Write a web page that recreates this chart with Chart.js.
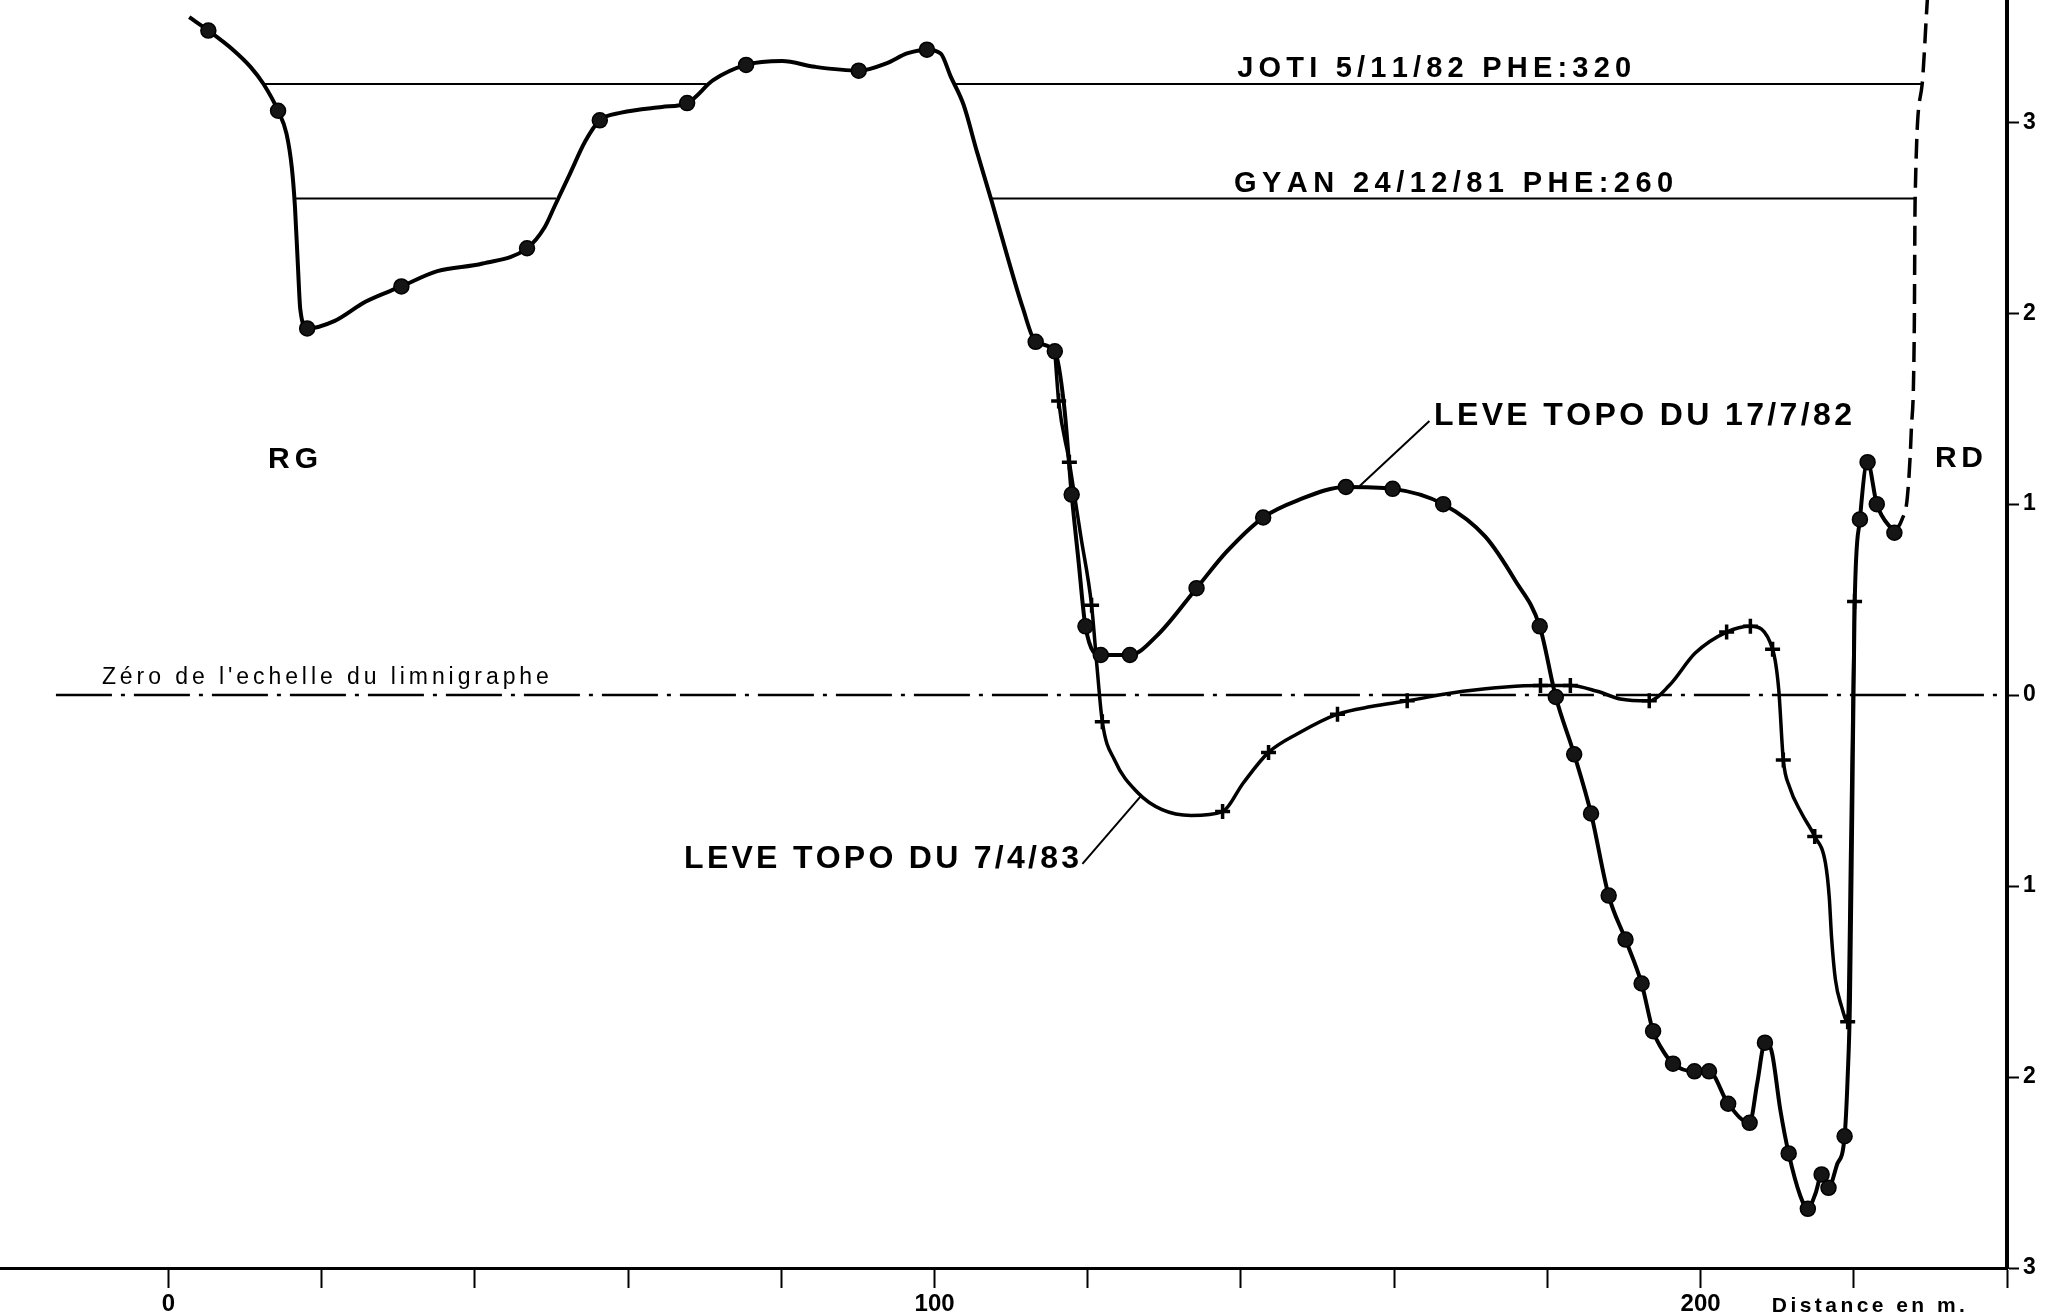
<!DOCTYPE html>
<html>
<head>
<meta charset="utf-8">
<title>Profil en travers</title>
<script src="https://cdn.jsdelivr.net/npm/chart.js@4/dist/chart.umd.min.js"></script>
<style>
  html, body { margin: 0; padding: 0; background: #ffffff; }
  #wrap { position: relative; width: 2050px; height: 1315px; }
</style>
</head>
<body>
<div id="wrap"><canvas id="section"></canvas></div>
<script>
// Cross-section survey: distance across the river (m) and elevation
// relative to the gauge zero (m). Flag 1 = surveyed point (marker drawn).

// Survey of 17/7/82 (round markers)
const leve82Dist = [2.7, 5.2, 8.4, 10.7, 12.4, 14.3, 15.4, 16.1, 16.5, 16.9, 17.2, 18.1,
  21.7, 25.7, 30.4, 35.1, 41.0, 46.8, 49.1, 50.4, 52.4, 54.4, 56.3, 59.1, 64.4, 67.7,
  71.1, 75.4, 80.1, 84.4, 90.1, 93.8, 96.4, 99.0, 100.8, 102.1, 103.8, 105.5, 107.5,
  109.7, 111.5, 113.2, 115.7, 116.9, 117.9, 118.8, 119.7, 121.7, 125.5, 129.0, 134.2,
  138.1, 142.9, 147.4, 153.7, 159.8, 166.4, 171.9, 175.8, 179.0, 181.1, 183.5, 185.7,
  188.0, 190.2, 192.3, 193.8, 194.9, 196.4, 199.2, 201.1, 203.6, 206.4, 207.4, 208.4,
  209.3, 210.4, 211.5, 213.0, 214.0, 215.0, 215.8, 216.7, 217.8, 218.8, 219.2, 219.5,
  219.8, 220.1, 220.8, 221.8, 223.0, 225.3];
const leve82Elev = [3.55, 3.48, 3.38, 3.29, 3.20, 3.06, 2.94, 2.76, 2.56, 2.24, 2.02, 1.92,
  1.96, 2.06, 2.14, 2.22, 2.26, 2.34, 2.45, 2.56, 2.73, 2.90, 3.01, 3.05, 3.08, 3.10,
  3.22, 3.30, 3.32, 3.29, 3.27, 3.31, 3.36, 3.38, 3.36, 3.24, 3.09, 2.85, 2.58,
  2.27, 2.03, 1.85, 1.80, 1.52, 1.05, 0.70, 0.36, 0.21, 0.21, 0.31, 0.56,
  0.75, 0.93, 1.02, 1.09, 1.08, 1.00, 0.83, 0.60, 0.36, -0.01, -0.31, -0.62,
  -1.05, -1.28, -1.51, -1.76, -1.85, -1.93, -1.97, -1.97, -2.14, -2.24, -2.03, -1.82,
  -1.87, -2.17, -2.40, -2.62, -2.69, -2.61, -2.51, -2.58, -2.46, -2.31, -2.00, -1.60,
  -0.60, 0.45, 0.92, 1.22, 1.00, 0.85];
const leve82Surveyed = [0, 1, 0, 0, 0, 1, 0, 0, 0, 0, 0, 1,
  0, 0, 1, 0, 0, 1, 0, 0, 0, 0, 1, 0, 0, 1,
  0, 1, 0, 0, 1, 0, 0, 1, 0, 0, 0, 0, 0,
  0, 0, 1, 1, 0, 1, 0, 1, 1, 1, 0, 1,
  0, 1, 0, 1, 1, 1, 0, 0, 1, 1, 1, 1,
  1, 1, 1, 1, 0, 1, 1, 1, 1, 1, 0, 1,
  0, 0, 1, 0, 1, 0, 1, 1, 0, 1, 0, 0,
  0, 0, 1, 1, 1, 1];

// Right bank above the last surveyed point (estimated, dashed)
const rightBankDist = [225.3, 226.3, 227.0, 227.5, 227.9, 228.0, 228.9, 229.6, 229.8];
const rightBankElev = [0.85, 0.92, 1.04, 1.38, 1.93, 2.58, 3.19, 3.64, 3.75];

// Survey of 7/4/83 (cross markers)
const leve83Dist = [115.7, 116.2, 117.6, 119.1, 120.5, 121.2, 121.9, 123.5, 126.5, 129.7,
  133.5, 137.6, 140.3, 143.6, 147.5, 152.6, 157.0, 161.7, 169.0, 179.1, 183.0, 186.5,
  189.5, 193.3, 195.9, 199.3, 203.4, 206.5, 209.4, 210.2, 210.8, 211.6, 213.2, 214.9,
  216.3, 216.8, 217.1, 217.6, 218.4, 219.2, 219.6, 220.1];
const leve83Elev = [1.80, 1.54, 1.22, 0.83, 0.47, 0.15, -0.14, -0.34, -0.51, -0.60,
  -0.63, -0.61, -0.46, -0.30, -0.20, -0.10, -0.06, -0.03, 0.02, 0.05, 0.05, 0.02,
  -0.02, -0.03, 0.05, 0.22, 0.33, 0.36, 0.24, 0.03, -0.34, -0.48, -0.62, -0.74,
  -0.88, -1.06, -1.27, -1.49, -1.63, -1.71, -0.80, 0.49];
const leve83Surveyed = [0, 1, 1, 0, 1, 0, 1, 0, 0, 0,
  0, 1, 0, 1, 0, 1, 0, 1, 0, 1, 1, 0,
  0, 1, 0, 0, 1, 1, 1, 0, 1, 0, 0, 1,
  0, 0, 0, 0, 0, 1, 0, 1];

// Highest flood levels (PHE, m above gauge zero) and the reaches they cover
const floodNames = ['JOTI 5/11/82 PHE:320', 'GYAN 24/12/81 PHE:260'];
const floodLevels = [3.20, 2.60];
const floodSpans = [
  [[12.4, 70.2], [102.6, 228.9]],
  [[16.5, 50.6], [107.3, 228.0]]
];

// Gauge zero reference line
const gaugeZeroLevel = 0;
const gaugeZeroSpan = [-14.7, 240];

// Leader lines from the survey captions to their curves
const leader82 = [[164.6, 1.435], [155.5, 1.095]];
const leader83 = [[119.3, -0.884], [126.9, -0.53]];

// Axis ticks
const xTickValues = [0, 20, 40, 60, 80, 100, 120, 140, 160, 180, 200, 220, 240];
const xTickLabels = [0, 100, 200];
const yTickValues = [-3, -2, -1, 0, 1, 2, 3];

const toPoints = (xs, ys) => xs.map((v, i) => ({ x: v, y: ys[i] }));

const INK = '#000000';
const FONT = "'Liberation Sans', Arial, Helvetica, sans-serif";

const datasets = [];

datasets.push({
  label: 'LEVE TOPO DU 17/7/82',
  data: toPoints(leve82Dist, leve82Elev),
  borderColor: INK,
  borderWidth: 4,
  cubicInterpolationMode: 'monotone',
  pointStyle: 'circle',
  pointRadius: c => (leve82Surveyed[c.dataIndex] ? 7.5 : 0),
  pointBackgroundColor: '#151515',
  pointBorderColor: INK,
  pointBorderWidth: 1.5,
  order: 1
});

datasets.push({
  label: 'LEVE TOPO DU 7/4/83',
  data: toPoints(leve83Dist, leve83Elev),
  borderColor: INK,
  borderWidth: 3.5,
  cubicInterpolationMode: 'monotone',
  pointStyle: 'cross',
  pointRadius: c => (leve83Surveyed[c.dataIndex] ? 7.5 : 0),
  pointBorderColor: INK,
  pointBorderWidth: 3.5,
  order: 2
});

datasets.push({
  label: 'rive droite',
  data: toPoints(rightBankDist, rightBankElev),
  borderColor: INK,
  borderWidth: 3.5,
  borderDash: [20, 9],
  cubicInterpolationMode: 'monotone',
  pointRadius: 0,
  order: 3
});

floodSpans.forEach((spans, k) => {
  spans.forEach(span => {
    datasets.push({
      label: floodNames[k],
      data: span.map(d => ({ x: d, y: floodLevels[k] })),
      borderColor: INK,
      borderWidth: 2,
      pointRadius: 0,
      tension: 0,
      order: 4
    });
  });
});

datasets.push({
  label: 'zero',
  data: gaugeZeroSpan.map(d => ({ x: d, y: gaugeZeroLevel })),
  borderColor: INK,
  borderWidth: 2.5,
  borderDash: [56, 9, 4, 9],
  pointRadius: 0,
  tension: 0,
  order: 5
});

[leader82, leader83].forEach(seg => {
  datasets.push({
    label: 'leader',
    data: seg.map(p => ({ x: p[0], y: p[1] })),
    borderColor: INK,
    borderWidth: 2,
    pointRadius: 0,
    tension: 0,
    order: 4
  });
});

// Draws text spread across a given width (letter-spaced lettering)
function drawSpaced(ctx, text, left, baseline, width, font) {
  ctx.font = font;
  const chars = Array.from(text);
  const widths = chars.map(ch => ctx.measureText(ch).width);
  const natural = widths.reduce((a, b) => a + b, 0);
  const gap = chars.length > 1 ? (width - natural) / (chars.length - 1) : 0;
  let xx = left;
  chars.forEach((ch, i) => {
    ctx.fillText(ch, xx, baseline);
    xx += widths[i] + gap;
  });
}

const captionPlugin = {
  id: 'captions',
  afterDatasetsDraw(chart) {
    const { ctx } = chart;
    const sx = chart.scales.x;
    const sy = chart.scales.y;
    const px = v => sx.getPixelForValue(v);
    const py = v => sy.getPixelForValue(v);
    ctx.save();
    ctx.fillStyle = INK;
    ctx.textAlign = 'left';
    ctx.textBaseline = 'alphabetic';

    const boldFlood = `bold 29px ${FONT}`;
    drawSpaced(ctx, floodNames[0], px(139.5), py(floodLevels[0]) - 7, 394, boldFlood);
    drawSpaced(ctx, floodNames[1], px(139.1), py(floodLevels[1]) - 7, 439, boldFlood);

    const boldSurvey = `bold 32px ${FONT}`;
    drawSpaced(ctx, 'LEVE TOPO DU 17/7/82', px(165.2), py(1.414), 418, boldSurvey);
    drawSpaced(ctx, 'LEVE TOPO DU 7/4/83', px(67.3), py(-0.905), 395, boldSurvey);

    const bank = `bold 30px ${FONT}`;
    drawSpaced(ctx, 'RG', px(13.0), py(1.189), 50, bank);
    drawSpaced(ctx, 'RD', px(230.6), py(1.194), 48, bank);

    drawSpaced(ctx, "Zéro de l'echelle du limnigraphe", px(-8.7), py(gaugeZeroLevel) - 11, 447, `23px ${FONT}`);

    drawSpaced(ctx, 'Distance en m.', px(209.3), chart.height - 3, 193, `bold 21px ${FONT}`);
    ctx.restore();
  }
};

new Chart(document.getElementById('section'), {
  type: 'line',
  data: { datasets },
  options: {
    responsive: true,
    maintainAspectRatio: false,
    animation: false,
    events: [],
    layout: { padding: 0, autoPadding: false },
    plugins: {
      legend: { display: false },
      tooltip: { enabled: false },
      title: { display: false }
    },
    scales: {
      x: {
        type: 'linear',
        position: 'bottom',
        min: -22,
        max: 240,
        afterBuildTicks: s => { s.ticks = xTickValues.map(v => ({ value: v })); },
        afterFit: s => { s.height = 47; s.paddingLeft = 0; s.paddingRight = 0; },
        ticks: {
          autoSkip: false,
          maxRotation: 0,
          padding: 2,
          color: INK,
          font: { family: FONT, size: 24, weight: 'bold' },
          callback: v => (xTickLabels.includes(v) ? String(v) : '')
        },
        grid: {
          display: true,
          drawOnChartArea: false,
          drawTicks: true,
          tickLength: 20,
          tickWidth: 2,
          tickColor: INK
        },
        border: { display: true, color: INK, width: 3 }
      },
      y: {
        type: 'linear',
        position: 'right',
        min: -3,
        max: 3.64,
        afterBuildTicks: s => { s.ticks = yTickValues.map(v => ({ value: v })); },
        afterFit: s => { s.width = 43; s.paddingTop = 0; s.paddingBottom = 0; },
        ticks: {
          padding: 4,
          color: INK,
          font: { family: FONT, size: 23, weight: 'bold' },
          callback: v => String(Math.abs(v))
        },
        grid: {
          display: true,
          drawOnChartArea: false,
          drawTicks: true,
          tickLength: 12,
          tickWidth: 2,
          tickColor: INK
        },
        border: { display: true, color: INK, width: 4 }
      }
    }
  },
  plugins: [captionPlugin]
});
</script>
</body>
</html>
